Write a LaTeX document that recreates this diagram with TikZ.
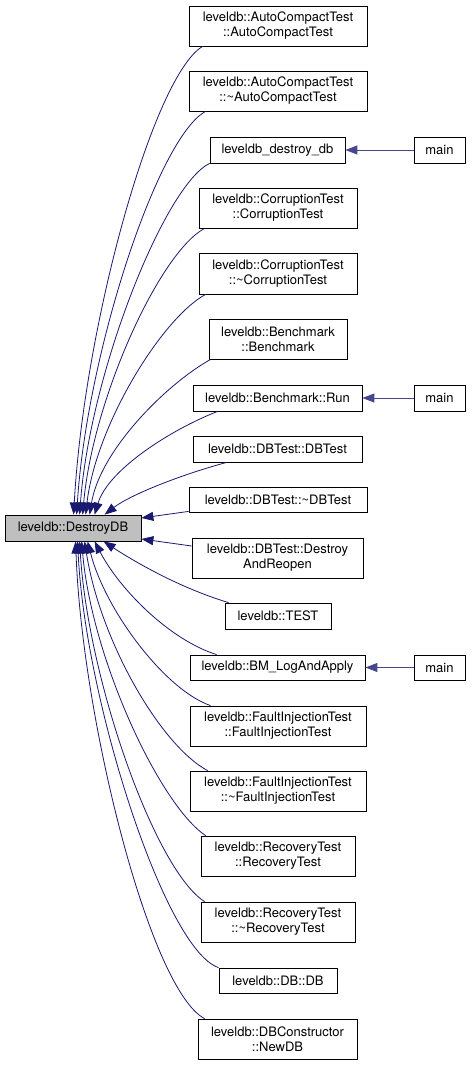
\documentclass[tikz,border=0pt]{standalone}
\usepackage{fontspec}
\setmainfont{TeX Gyre Heros}
\usetikzlibrary{arrows.meta,calc}
\definecolor{edgecol}{HTML}{191970}
\definecolor{rootfill}{HTML}{BFBFBF}
\tikzset{
  box/.style={draw=black,line width=0.8pt,fill=white,inner sep=0pt,align=center,
    font=\fontsize{13pt}{15pt}\selectfont,text=black},
  edge/.style={draw=edgecol,line width=0.8pt,-{Triangle[length=12pt,width=9pt]}},
  mainedge/.style={draw=edgecol!80!white,line width=1pt,-{Triangle[length=12pt,width=9pt]}}
}
\begin{document}
\begin{tikzpicture}[x=1pt,y=-1pt]
\useasboundingbox (0,0) rectangle (471,1065);
\node[box,minimum width=178pt,minimum height=40pt] (ac1) at (278,26) {leveldb::AutoCompactTest\\::AutoCompactTest};
\node[box,minimum width=178pt,minimum height=40pt] (ac2) at (278,91) {leveldb::AutoCompactTest\\::\textasciitilde AutoCompactTest};
\node[box,minimum width=135pt,minimum height=26pt] (ddb) at (277.5,150) {leveldb\_destroy\_db};
\node[box,minimum width=51pt,minimum height=26pt] (m1) at (439.5,150) {main};
\node[box,minimum width=158pt,minimum height=40pt] (ct1) at (278,208) {leveldb::CorruptionTest\\::CorruptionTest};
\node[box,minimum width=158pt,minimum height=41pt] (ct2) at (278,273.5) {leveldb::CorruptionTest\\::\textasciitilde CorruptionTest};
\node[box,minimum width=138pt,minimum height=40pt] (bm1) at (278,339) {leveldb::Benchmark\\::Benchmark};
\node[box,minimum width=169pt,minimum height=26pt] (run) at (277.5,398) {leveldb::Benchmark::Run};
\node[box,minimum width=51pt,minimum height=26pt] (m2) at (439.5,398) {main};
\node[box,minimum width=169pt,minimum height=26pt] (dbt1) at (277.5,449) {leveldb::DBTest::DBTest};
\node[box,minimum width=178pt,minimum height=25pt] (dbt2) at (278,499.5) {leveldb::DBTest::\textasciitilde DBTest};
\node[box,fill=rootfill,minimum width=136pt,minimum height=26pt] (D) at (73,528) {leveldb::DestroyDB};
\node[box,minimum width=171pt,minimum height=40pt] (dar) at (277.5,558) {leveldb::DBTest::Destroy\\AndReopen};
\node[box,minimum width=106pt,minimum height=26pt] (test) at (278,616) {leveldb::TEST};
\node[box,minimum width=175pt,minimum height=25pt] (bml) at (277.5,667.5) {leveldb::BM\_LogAndApply};
\node[box,minimum width=51pt,minimum height=25pt] (m3) at (439.5,667.5) {main};
\node[box,minimum width=176pt,minimum height=40pt] (fi1) at (278,726) {leveldb::FaultInjectionTest\\::FaultInjectionTest};
\node[box,minimum width=176pt,minimum height=40pt] (fi2) at (278,791) {leveldb::FaultInjectionTest\\::\textasciitilde FaultInjectionTest};
\node[box,minimum width=154pt,minimum height=40pt] (rt1) at (278,856) {leveldb::RecoveryTest\\::RecoveryTest};
\node[box,minimum width=154pt,minimum height=40pt] (rt2) at (278,922) {leveldb::RecoveryTest\\::\textasciitilde RecoveryTest};
\node[box,minimum width=118pt,minimum height=25pt] (db) at (278,980.5) {leveldb::DB::DB};
\node[box,minimum width=159pt,minimum height=40pt] (ndb) at (277.5,1039) {leveldb::DBConstructor\\::NewDB};
% main edges
\draw[mainedge] (m1.west) -- (ddb.east);
\draw[mainedge] (m2.west) -- (run.east);
\draw[mainedge] (m3.west) -- (bml.east);
% upper callers
\draw[edge] ([xshift=14pt]ac1.south west) .. controls (153,76) and (84,326) .. ([xshift=69pt]D.north west);
\draw[edge] ([xshift=17pt]ac2.south west) .. controls (158,137) and (87,352) .. ([xshift=72pt]D.north west);
\draw[edge] ([xshift=0pt]ddb.south west) .. controls (165,185) and (90,372) .. ([xshift=75pt]D.north west);
\draw[edge] ([xshift=6pt]ct1.south west) .. controls (160,252) and (93,398) .. ([xshift=78pt]D.north west);
\draw[edge] ([xshift=7pt]ct2.south west) .. controls (162,318) and (96,425) .. ([xshift=81pt]D.north west);
\draw[edge] ([xshift=2pt]bm1.south west) .. controls (165,385) and (100,451) .. ([xshift=85pt]D.north west);
\draw[edge] ([xshift=25pt]run.south west) .. controls (170,430) and (108,470) .. ([xshift=90pt]D.north west);
\draw[edge] ([xshift=34pt]dbt1.south west) .. controls (180,475) and (130,495) .. ([xshift=100pt]D.north west);
\draw[edge] ($(dbt2.south west)+(0,-1)$) -- ($(D.east)+(0,-10)$);
\draw[edge] ($(dar.west)+(0,-12)$) -- ($(D.east)+(0,11)$);
% lower callers
\draw[edge] ([xshift=4pt]test.north west) .. controls (180,588) and (135,562) .. ([xshift=99pt]D.south west);
\draw[edge] ([xshift=27pt]bml.north west) .. controls (170,640) and (120,590) .. ([xshift=90pt]D.south west);
\draw[edge] ([xshift=21pt]fi1.north west) .. controls (165,690) and (105,610) .. ([xshift=83pt]D.south west);
\draw[edge] ([xshift=18pt]fi2.north west) .. controls (160,745) and (100,640) .. ([xshift=80pt]D.south west);
\draw[edge] ([xshift=5pt]rt1.north west) .. controls (160,805) and (92,660) .. ([xshift=77pt]D.south west);
\draw[edge] ([xshift=4pt]rt2.north west) .. controls (155,870) and (88,680) .. ([xshift=75pt]D.south west);
\draw[edge] ([xshift=0pt]db.north west) .. controls (165,950) and (85,700) .. ([xshift=73pt]D.south west);
\draw[edge] ([xshift=7pt]ndb.north west) .. controls (150,990) and (82,720) .. ([xshift=71pt]D.south west);
\end{tikzpicture}
\end{document}
